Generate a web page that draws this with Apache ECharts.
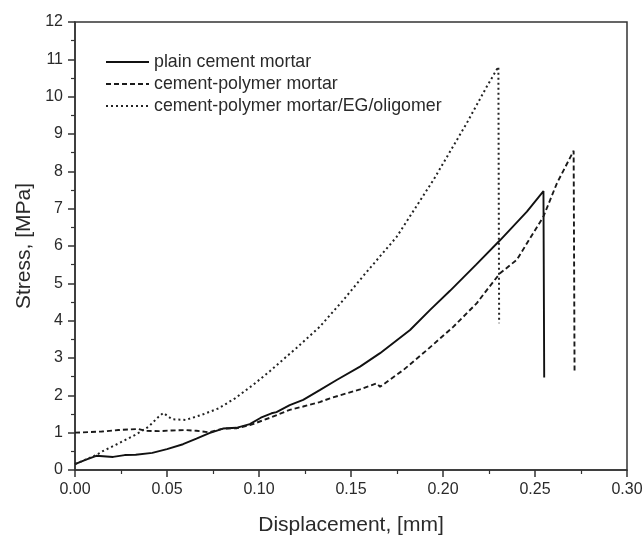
<!DOCTYPE html>
<html>
<head>
<meta charset="UTF-8">
<title>Stress vs displacement</title>
<style>
  html, body { margin: 0; padding: 0; background: #fff; }
  #chart { width: 644px; height: 537px; }
</style>
</head>
<body>
<div id="chart"></div>
<script src="https://cdn.jsdelivr.net/npm/echarts@6/dist/echarts.min.js"></script>
<script>
// plain cement mortar (solid)
var plainX = [0, 0.006, 0.0116, 0.0207, 0.027, 0.033, 0.042, 0.05, 0.0587, 0.066, 0.073, 0.0805, 0.0877, 0.095, 0.101, 0.1068,
  0.1095, 0.1167, 0.124, 0.133, 0.1422, 0.1549, 0.1658, 0.1821, 0.193, 0.2038, 0.218, 0.2311, 0.2456, 0.2546, 0.2550];
var plainY = [0.16, 0.28, 0.38, 0.35, 0.40, 0.41, 0.46, 0.56, 0.69, 0.84, 0.99, 1.11, 1.13, 1.23, 1.40, 1.52,
  1.55, 1.74, 1.88, 2.14, 2.41, 2.77, 3.13, 3.75, 4.29, 4.80, 5.50, 6.16, 6.92, 7.47, 2.48];

// cement-polymer mortar (dashed)
var polyX = [0, 0.0145, 0.0236, 0.0345, 0.038, 0.0454, 0.0527, 0.06, 0.066, 0.073, 0.0805, 0.088, 0.095, 0.106, 0.1167,
  0.124, 0.133, 0.1386, 0.1549, 0.164, 0.1658, 0.1785, 0.1912, 0.2057, 0.2184, 0.2238, 0.231, 0.2401, 0.2546, 0.2619, 0.2710, 0.2715];
var polyY = [1.00, 1.03, 1.07, 1.10, 1.05, 1.04, 1.06, 1.07, 1.05, 1.01, 1.11, 1.12, 1.20, 1.40, 1.61,
  1.70, 1.82, 1.92, 2.16, 2.32, 2.23, 2.68, 3.21, 3.84, 4.47, 4.82, 5.27, 5.63, 6.79, 7.68, 8.55, 2.59];

// cement-polymer mortar/EG/oligomer (dotted)
var egX = [0, 0.0116, 0.0145, 0.0236, 0.0327, 0.040, 0.0455, 0.048, 0.0527, 0.060, 0.069, 0.078, 0.087, 0.0968, 0.106,
  0.115, 0.1204, 0.1331, 0.1386, 0.1458, 0.1567, 0.1749, 0.1948, 0.2129, 0.2238, 0.2301, 0.2305];
var egY = [0.16, 0.40, 0.49, 0.71, 0.94, 1.16, 1.43, 1.53, 1.36, 1.34, 1.48, 1.65, 1.92, 2.28, 2.65,
  3.04, 3.27, 3.84, 4.15, 4.55, 5.20, 6.25, 7.77, 9.29, 10.27, 10.80, 3.93];

var seriesNames = ['plain cement mortar', 'cement-polymer mortar', 'cement-polymer mortar/EG/oligomer'];

function pairs(xs, ys) {
  var out = [];
  for (var i = 0; i < xs.length; i++) out.push([xs[i], ys[i]]);
  return out;
}

var font = 'Liberation Sans';
var ink = '#2a2a2a';

var chart = echarts.init(document.getElementById('chart'));
var option = {
  animation: false,
  backgroundColor: '#fff',
  textStyle: { fontFamily: font, color: ink },
  grid: {
    left: 75, right: 17, top: 22, bottom: 67,
    outerBoundsMode: 'none',
    show: true, borderColor: '#333', borderWidth: 1.5
  },
  legend: {
    orient: 'vertical',
    left: 100, top: 48,
    itemWidth: 43, itemHeight: 12, itemGap: 4,
    itemStyle: { color: 'transparent', borderWidth: 0, opacity: 0 },
    textStyle: { fontFamily: font, fontSize: 17.8, lineHeight: 17.5, color: ink },
    data: seriesNames
  },
  xAxis: {
    type: 'value',
    min: 0, max: 0.3, interval: 0.05,
    name: 'Displacement, [mm]',
    nameLocation: 'middle',
    nameGap: 45,
    nameTextStyle: { fontFamily: font, fontSize: 21, color: ink },
    axisLine: { show: true, lineStyle: { color: '#333', width: 1.5 } },
    axisTick: { show: true, length: 7, lineStyle: { color: '#333', width: 1.5 } },
    minorTick: { show: true, splitNumber: 2, length: 4, lineStyle: { color: '#333', width: 1.2 } },
    splitLine: { show: false },
    axisLabel: {
      fontFamily: font, fontSize: 16, color: ink, margin: 12,
      formatter: function (v) { return v.toFixed(2); }
    }
  },
  yAxis: {
    type: 'value',
    min: 0, max: 12, interval: 1,
    name: 'Stress, [MPa]',
    nameLocation: 'middle',
    nameGap: 38,
    nameTextStyle: { fontFamily: font, fontSize: 21, color: ink },
    axisLine: { show: true, lineStyle: { color: '#333', width: 1.5 } },
    axisTick: { show: true, length: 7, lineStyle: { color: '#333', width: 1.5 } },
    minorTick: { show: true, splitNumber: 2, length: 4, lineStyle: { color: '#333', width: 1.2 } },
    splitLine: { show: false },
    axisLabel: { fontFamily: font, fontSize: 16, color: ink, margin: 12 }
  },
  series: [
    {
      name: seriesNames[0], type: 'line', data: pairs(plainX, plainY),
      showSymbol: false, symbol: 'none',
      lineStyle: { color: '#111', width: 1.9, type: 'solid' },
      itemStyle: { color: '#111' }
    },
    {
      name: seriesNames[1], type: 'line', data: pairs(polyX, polyY),
      showSymbol: false, symbol: 'none',
      lineStyle: { color: '#1a1a1a', width: 1.9, type: [5, 3] },
      itemStyle: { color: '#1a1a1a' }
    },
    {
      name: seriesNames[2], type: 'line', data: pairs(egX, egY),
      showSymbol: false, symbol: 'none',
      lineStyle: { color: '#222', width: 2, type: [2, 3] },
      itemStyle: { color: '#222' }
    }
  ]
};
chart.setOption(option);
</script>
</body>
</html>
